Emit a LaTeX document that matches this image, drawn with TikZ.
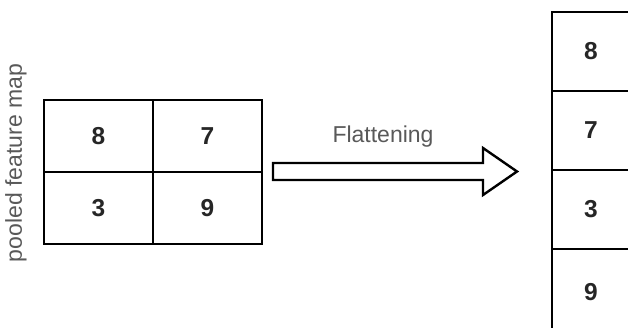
\documentclass[tikz,border=0pt]{standalone}
\usepackage{fontspec}
\setmainfont{Liberation Sans}
\begin{document}
\begin{tikzpicture}[x=1pt,y=1pt]
\tikzstyle{cell}=[draw,line width=2.4pt,inner sep=0pt,font=\fontsize{24.5}{26}\selectfont\bfseries,text=black!85]
\tikzstyle{label}=[text=black!65,font=\fontsize{23}{25}\selectfont]
    \useasboundingbox (0,0) rectangle (628,327);
    % pooled map
    \node[cell,minimum width=109,minimum height=72] (m11) at (98.5,191) {8};
    \node[cell,minimum width=109,minimum height=72] (m12) at (207.5,191) {7};
    \node[cell,minimum width=109,minimum height=72] (m21) at (98.5,119) {3};
    \node[cell,minimum width=109,minimum height=72] (m22) at (207.5,119) {9};
    \node[label,rotate=90] (name) at (16,164) {pooled feature map};
    % flattened column
    \node[cell,minimum width=78,minimum height=79] (v1) at (591,275.5) {8};
    \node[cell,minimum width=78,minimum height=79] (v2) at (591,196.5) {7};
    \node[cell,minimum width=78,minimum height=79] (v3) at (591,117.5) {3};
    \node[cell,minimum width=78,minimum height=86] (v4) at (591,35) {9};
    % block arrow
    \coordinate (tail) at (273,155.5);
    \coordinate (tip) at (517,155.5);
    \draw[line width=2.4pt,line join=miter] (273,164) -- (483,164) -- (483,179) -- (tip)
        -- (483,132) -- (483,147) -- (273,147) -- cycle;
    \node[label] (flat) at (383,190) {Flattening};
\end{tikzpicture}
\end{document}
